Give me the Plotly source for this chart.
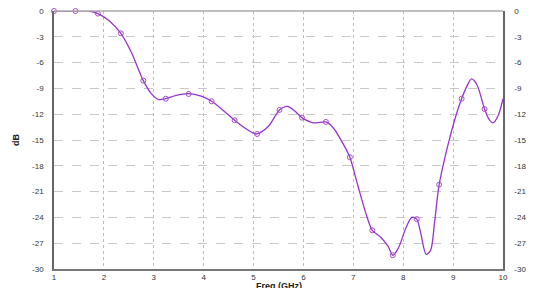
import plotly.graph_objects as go

# Curve points (frequency GHz, dB)
freq_curve = [1.0, 1.43, 1.7, 1.88, 2.1, 2.34, 2.55, 2.79, 2.95, 3.1, 3.24, 3.45, 3.7, 3.95, 4.16, 4.4,
              4.62, 4.85, 5.05, 5.3, 5.52, 5.68, 5.82, 5.97, 6.2, 6.45, 6.6, 6.8, 6.93, 7.1, 7.25, 7.38,
              7.55, 7.7, 7.79, 7.9, 8.05, 8.17, 8.27, 8.35, 8.46, 8.55, 8.63, 8.72, 8.9, 9.05, 9.17,
              9.28, 9.37, 9.48, 9.63, 9.72, 9.8, 9.9, 10.0]
db_curve = [0.0, 0.0, 0.0, -0.3, -1.1, -2.6, -4.8, -8.1, -9.6, -10.3, -10.2, -9.8, -9.6, -9.9, -10.5, -11.6,
            -12.7, -13.7, -14.3, -13.4, -11.5, -11.1, -11.6, -12.4, -13.0, -12.9, -13.6, -15.5, -17.0, -20.5, -23.5, -25.5,
            -26.3, -27.4, -28.4, -27.6, -25.3, -24.0, -24.2, -25.8, -28.3, -27.8, -24.5, -20.2, -15.5, -12.3, -10.2,
            -8.7, -7.9, -8.6, -11.4, -12.6, -13.0, -12.2, -10.2]

# Marker positions
freq_marker = [1.0, 1.43, 1.88, 2.34, 2.79, 3.24, 3.7, 4.16, 4.62, 5.07, 5.52, 5.97, 6.45, 6.93,
               7.38, 7.79, 8.27, 8.72, 9.17, 9.63]
db_marker = [0.0, 0.0, -0.3, -2.6, -8.1, -10.2, -9.65, -10.5, -12.7, -14.3, -11.5, -12.4, -12.9, -17.0,
             -25.5, -28.4, -24.2, -20.2, -10.2, -11.4]

x_ticks = [1, 2, 3, 4, 5, 6, 7, 8, 9, 10]
y_ticks = [0, -3, -6, -9, -12, -15, -18, -21, -24, -27, -30]

x_title = "Freq (GHz)"
y_title = "dB"

purple = "#9933CC"

fig = go.Figure()
fig.add_trace(go.Scatter(x=freq_curve, y=db_curve, mode="lines",
                         line=dict(color=purple, width=1.3, shape="spline", smoothing=0.8),
                         hoverinfo="skip", showlegend=False, cliponaxis=False))
fig.add_trace(go.Scatter(x=freq_marker, y=db_marker, mode="markers", cliponaxis=False,
                         marker=dict(symbol="circle-open", size=5, color="#A050C0", line=dict(width=1)),
                         showlegend=False))
fig.add_trace(go.Scatter(x=[1], y=[0], yaxis="y2", mode="markers", marker=dict(opacity=0),
                         hoverinfo="skip", showlegend=False))

font = dict(family="Liberation Sans, Arial, sans-serif", size=8, color="#333333")
title_font = dict(family="Liberation Sans, Arial, sans-serif", size=9, color="#222222")

fig.update_layout(
    width=540, height=288,
    margin=dict(l=46, r=45, t=3, b=27),
    paper_bgcolor="white", plot_bgcolor="white",
    font=font,
    xaxis=dict(range=[1, 10], tickvals=x_ticks, ticktext=[str(v) for v in x_ticks],
               showgrid=True, gridcolor="#BBBBBB", griddash="dot", gridwidth=1,
               showline=True, linecolor="#777777", linewidth=1.5, mirror=False,
               ticks="", zeroline=False, tickfont=font, automargin=False,
               ticklabeloverflow="allow"),
    yaxis=dict(range=[-30, 0], tickvals=y_ticks, ticktext=[str(v) for v in y_ticks],
               showgrid=True, gridcolor="#C8C8C8", griddash="dash", gridwidth=1,
               showline=True, linecolor="#666666", linewidth=1.5, automargin=False,
               ticks="", zeroline=False, tickfont=font, ticklabelstandoff=7,
               ticklabeloverflow="allow"),
    yaxis2=dict(range=[-30, 0], tickvals=y_ticks, ticktext=[str(v) for v in y_ticks],
                overlaying="y", side="right", showgrid=False, automargin=False,
                showline=True, linecolor="#666666", linewidth=1.5,
                ticks="", zeroline=False, tickfont=font, ticklabelstandoff=8,
                ticklabeloverflow="allow"),
    shapes=[dict(type="line", xref="paper", yref="paper", x0=0, x1=1, y0=1, y1=1,
                 line=dict(color="#AAAAAA", width=1.5))],
    annotations=[
        dict(text="<b>" + x_title + "</b>", xref="paper", yref="paper", x=0.5, y=0,
             xanchor="center", yanchor="top", yshift=-10, showarrow=False, font=title_font),
        dict(text="<b>" + y_title + "</b>", xref="paper", yref="paper", x=0, y=0.5,
             xanchor="center", yanchor="middle", xshift=-38, textangle=-90, showarrow=False,
             font=title_font),
        dict(text="<b>" + y_title + "</b>", xref="paper", yref="paper", x=1, y=0.5,
             xanchor="center", yanchor="middle", xshift=37, textangle=-90, showarrow=False,
             font=title_font),
    ],
)

fig.write_html("out.html")
